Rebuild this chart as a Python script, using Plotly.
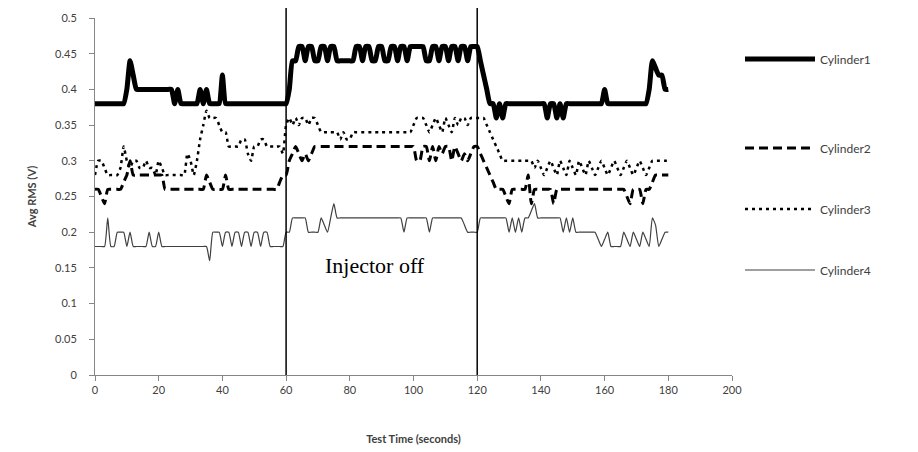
import plotly.graph_objects as go

time_s = list(range(0, 181))

cylinder1 = [
    0.38, 0.38, 0.38, 0.38, 0.38, 0.38, 0.38, 0.38, 0.38, 0.38,
    0.40, 0.44, 0.42, 0.40, 0.40, 0.40, 0.40, 0.40, 0.40, 0.40,
    0.40, 0.40, 0.40, 0.40, 0.40, 0.38, 0.40, 0.38, 0.38, 0.38,
    0.38, 0.38, 0.38, 0.40, 0.38, 0.40, 0.38, 0.38, 0.38, 0.38,
    0.42, 0.38, 0.38, 0.38, 0.38, 0.38, 0.38, 0.38, 0.38, 0.38,
    0.38, 0.38, 0.38, 0.38, 0.38, 0.38, 0.38, 0.38, 0.38, 0.38,
    0.38, 0.40, 0.44, 0.44, 0.46, 0.46, 0.44, 0.46, 0.46, 0.44,
    0.44, 0.46, 0.46, 0.44, 0.46, 0.46, 0.44, 0.44, 0.44, 0.44,
    0.44, 0.44, 0.46, 0.46, 0.44, 0.46, 0.46, 0.44, 0.44, 0.46,
    0.46, 0.44, 0.44, 0.46, 0.46, 0.44, 0.46, 0.46, 0.44, 0.46,
    0.46, 0.46, 0.46, 0.46, 0.44, 0.44, 0.46, 0.46, 0.44, 0.46,
    0.46, 0.44, 0.46, 0.46, 0.44, 0.46, 0.46, 0.44, 0.46, 0.46,
    0.46, 0.44, 0.42, 0.40, 0.38, 0.38, 0.36, 0.38, 0.36, 0.38,
    0.38, 0.38, 0.38, 0.38, 0.38, 0.38, 0.38, 0.38, 0.38, 0.38,
    0.38, 0.38, 0.36, 0.38, 0.38, 0.36, 0.38, 0.36, 0.38, 0.38,
    0.38, 0.38, 0.38, 0.38, 0.38, 0.38, 0.38, 0.38, 0.38, 0.38,
    0.40, 0.38, 0.38, 0.38, 0.38, 0.38, 0.38, 0.38, 0.38, 0.38,
    0.38, 0.38, 0.38, 0.38, 0.40, 0.44, 0.43, 0.42, 0.42, 0.40,
    0.40,
]

cylinder2 = [
    0.26, 0.26, 0.25, 0.24, 0.26, 0.26, 0.26, 0.26, 0.26, 0.27,
    0.28, 0.30, 0.28, 0.28, 0.28, 0.28, 0.28, 0.28, 0.28, 0.28,
    0.28, 0.28, 0.26, 0.26, 0.26, 0.26, 0.26, 0.26, 0.26, 0.26,
    0.26, 0.26, 0.26, 0.26, 0.26, 0.28, 0.27, 0.26, 0.26, 0.26,
    0.26, 0.28, 0.26, 0.26, 0.26, 0.26, 0.26, 0.26, 0.26, 0.26,
    0.26, 0.26, 0.26, 0.26, 0.26, 0.26, 0.26, 0.26, 0.27, 0.28,
    0.28, 0.30, 0.31, 0.32, 0.31, 0.30, 0.31, 0.30, 0.31, 0.32,
    0.32, 0.32, 0.32, 0.32, 0.32, 0.32, 0.32, 0.32, 0.32, 0.32,
    0.32, 0.32, 0.32, 0.32, 0.32, 0.32, 0.32, 0.32, 0.32, 0.32,
    0.32, 0.32, 0.32, 0.32, 0.32, 0.32, 0.32, 0.32, 0.32, 0.32,
    0.32, 0.30, 0.30, 0.32, 0.32, 0.30, 0.32, 0.30, 0.32, 0.31,
    0.32, 0.32, 0.30, 0.32, 0.31, 0.30, 0.31, 0.30, 0.31, 0.32,
    0.32, 0.31, 0.30, 0.29, 0.28, 0.27, 0.26, 0.26, 0.26, 0.25,
    0.24, 0.26, 0.26, 0.26, 0.26, 0.26, 0.28, 0.24, 0.26, 0.26,
    0.26, 0.26, 0.26, 0.26, 0.24, 0.26, 0.26, 0.26, 0.26, 0.26,
    0.26, 0.26, 0.26, 0.26, 0.26, 0.26, 0.26, 0.26, 0.26, 0.26,
    0.26, 0.26, 0.26, 0.26, 0.26, 0.26, 0.26, 0.25, 0.24, 0.26,
    0.26, 0.26, 0.24, 0.26, 0.26, 0.27, 0.28, 0.28, 0.28, 0.28,
    0.28,
]

cylinder3 = [
    0.28, 0.30, 0.30, 0.29, 0.28, 0.28, 0.28, 0.28, 0.29, 0.32,
    0.30, 0.29, 0.30, 0.30, 0.29, 0.29, 0.30, 0.29, 0.29, 0.28,
    0.30, 0.29, 0.28, 0.28, 0.28, 0.28, 0.28, 0.28, 0.28, 0.31,
    0.30, 0.28, 0.30, 0.33, 0.35, 0.37, 0.36, 0.36, 0.36, 0.35,
    0.34, 0.34, 0.32, 0.32, 0.32, 0.32, 0.33, 0.33, 0.31, 0.30,
    0.32, 0.32, 0.33, 0.33, 0.32, 0.32, 0.32, 0.32, 0.32, 0.31,
    0.35, 0.36, 0.35, 0.36, 0.35, 0.36, 0.36, 0.35, 0.36, 0.36,
    0.35, 0.34, 0.34, 0.34, 0.34, 0.34, 0.34, 0.33, 0.34, 0.33,
    0.33, 0.34, 0.34, 0.34, 0.34, 0.34, 0.34, 0.34, 0.34, 0.34,
    0.34, 0.34, 0.34, 0.34, 0.34, 0.34, 0.34, 0.34, 0.34, 0.34,
    0.35, 0.36, 0.36, 0.36, 0.35, 0.34, 0.35, 0.36, 0.35, 0.34,
    0.36, 0.35, 0.34, 0.36, 0.35, 0.36, 0.36, 0.35, 0.36, 0.36,
    0.36, 0.36, 0.36, 0.35, 0.34, 0.33, 0.32, 0.31, 0.30, 0.30,
    0.30, 0.30, 0.30, 0.30, 0.30, 0.30, 0.30, 0.30, 0.29, 0.30,
    0.29, 0.28, 0.29, 0.30, 0.29, 0.28, 0.30, 0.29, 0.28, 0.30,
    0.29, 0.28, 0.30, 0.29, 0.28, 0.30, 0.29, 0.28, 0.29, 0.30,
    0.29, 0.28, 0.29, 0.30, 0.29, 0.28, 0.29, 0.30, 0.29, 0.28,
    0.29, 0.30, 0.29, 0.28, 0.29, 0.30, 0.30, 0.30, 0.30, 0.30,
    0.30,
]

cylinder4 = [
    0.18, 0.18, 0.18, 0.18, 0.22, 0.18, 0.18, 0.20, 0.20, 0.20,
    0.18, 0.20, 0.18, 0.18, 0.18, 0.18, 0.18, 0.20, 0.18, 0.18,
    0.20, 0.18, 0.18, 0.18, 0.18, 0.18, 0.18, 0.18, 0.18, 0.18,
    0.18, 0.18, 0.18, 0.18, 0.18, 0.18, 0.16, 0.20, 0.20, 0.20,
    0.18, 0.20, 0.20, 0.18, 0.20, 0.20, 0.18, 0.20, 0.20, 0.18,
    0.20, 0.20, 0.18, 0.20, 0.20, 0.18, 0.18, 0.18, 0.18, 0.18,
    0.20, 0.20, 0.22, 0.22, 0.22, 0.22, 0.22, 0.20, 0.20, 0.20,
    0.20, 0.22, 0.21, 0.20, 0.22, 0.24, 0.22, 0.22, 0.22, 0.22,
    0.22, 0.22, 0.22, 0.22, 0.22, 0.22, 0.22, 0.22, 0.22, 0.22,
    0.22, 0.22, 0.22, 0.22, 0.22, 0.22, 0.22, 0.20, 0.22, 0.22,
    0.22, 0.22, 0.22, 0.22, 0.22, 0.20, 0.22, 0.22, 0.22, 0.22,
    0.22, 0.22, 0.22, 0.22, 0.22, 0.22, 0.21, 0.20, 0.20, 0.20,
    0.20, 0.22, 0.22, 0.22, 0.22, 0.22, 0.22, 0.22, 0.22, 0.22,
    0.20, 0.22, 0.20, 0.22, 0.20, 0.22, 0.22, 0.23, 0.24, 0.22,
    0.22, 0.22, 0.22, 0.22, 0.22, 0.22, 0.22, 0.20, 0.22, 0.20,
    0.22, 0.20, 0.20, 0.20, 0.20, 0.20, 0.20, 0.20, 0.19, 0.18,
    0.19, 0.20, 0.18, 0.18, 0.18, 0.18, 0.20, 0.19, 0.18, 0.20,
    0.19, 0.18, 0.20, 0.19, 0.18, 0.22, 0.21, 0.18, 0.19, 0.20,
    0.20,
]

series_names = ["Cylinder1", "Cylinder2", "Cylinder3", "Cylinder4"]
x_ticks = [0, 20, 40, 60, 80, 100, 120, 140, 160, 180, 200]
y_ticks = [0, 0.05, 0.1, 0.15, 0.2, 0.25, 0.3, 0.35, 0.4, 0.45, 0.5]
y_tick_labels = ["0", "0.05", "0.1", "0.15", "0.2", "0.25", "0.3", "0.35", "0.4", "0.45", "0.5"]
marker_times = [60, 120]
annotation_text = "Injector off"

styles = [
    dict(color="black", width=5, dash="solid"),
    dict(color="black", width=3, dash="9px,5px"),
    dict(color="black", width=2.5, dash="3px,4px"),
    dict(color="#404040", width=1.2, dash="solid"),
]
legend_ids = ["legend", "legend2", "legend3", "legend4"]
legend_ypix = [59, 148, 209, 270]   # page pixel rows of the legend entries

fig = go.Figure()
for name, vals, st, lid in zip(series_names, [cylinder1, cylinder2, cylinder3, cylinder4], styles, legend_ids):
    fig.add_trace(go.Scatter(
        x=time_s, y=vals, mode="lines", name=name,
        line=dict(color=st["color"], width=st["width"], dash=st["dash"], shape="spline", smoothing=0.5),
        legend=lid,
    ))

# page body has an 8px default margin; compensate so the plot lands at page px 95..732 x 18..375
OFF = 8
W, H = 918 - OFF, 452 - OFF
plot_l, plot_r, plot_t, plot_b = 95, 732, 18, 375
ml, mt = plot_l - OFF, plot_t - OFF
mr = W - (plot_r - OFF)
mb = H - (plot_b - OFF)
pw, ph = plot_r - plot_l, plot_b - plot_t

legend_font = dict(family="Lato, Carlito, sans-serif", size=12, color="#404040")
legends = {}
for lid, yp in zip(legend_ids, legend_ypix):
    legends[lid] = dict(
        x=(740 - plot_l) / pw, xanchor="left",
        y=(plot_b - yp) / ph, yanchor="middle",
        font=legend_font, bgcolor="rgba(0,0,0,0)", itemwidth=70,
    )

for t in marker_times:
    fig.add_shape(type="line", xref="x", yref="paper", x0=t, x1=t, y0=0, y1=1.03,
                  line=dict(color="black", width=1.5))

fig.add_annotation(x=88, y=0.154, xref="x", yref="y", text=annotation_text, showarrow=False,
                   font=dict(family="Liberation Serif, Times New Roman, serif", size=22, color="black"))

axis_font = dict(family="Lato, Carlito, sans-serif", size=11, color="#404040")
fig.update_layout(
    width=W, height=H,
    margin=dict(l=ml, r=mr, t=mt, b=mb, autoexpand=False),
    paper_bgcolor="white", plot_bgcolor="white",
    showlegend=True,
    **legends,
    xaxis=dict(range=[0, 200], tickvals=x_ticks, ticks="outside", ticklen=5, tickcolor="#868686",
               showline=True, linecolor="#868686", linewidth=1, showgrid=False, zeroline=False,
               tickfont=axis_font,
               title=dict(text="<b>Test Time (seconds)</b>", font=dict(family="Lato, Carlito, sans-serif", size=11, color="#404040"), standoff=40)),
    yaxis=dict(range=[0, 0.5], tickvals=y_ticks, ticktext=y_tick_labels, ticks="outside", ticklen=5,
               tickcolor="#868686", showline=True, linecolor="#868686", linewidth=1, showgrid=False,
               zeroline=False, tickfont=axis_font, ticklabelstandoff=10,
               title=dict(text="<b>Avg RMS (V)</b>", font=dict(family="Lato, Carlito, sans-serif", size=11, color="#404040"), standoff=16)),
)

fig.write_html("out.html")
